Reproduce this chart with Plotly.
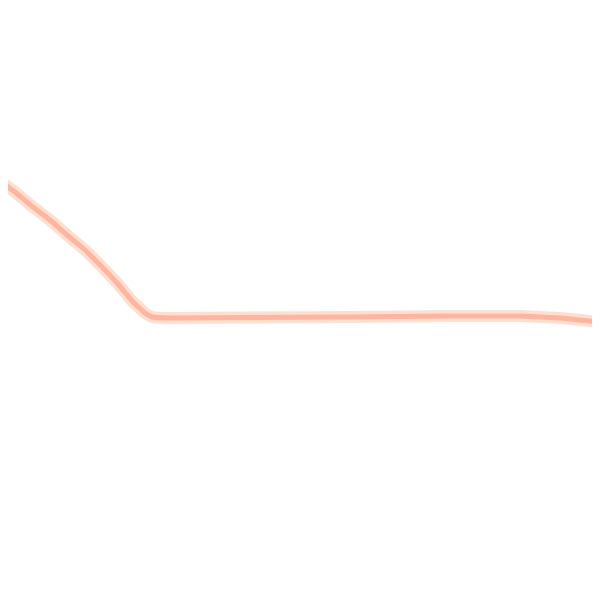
import plotly.graph_objects as go

# values (pixel-like units, y grows downward)
x_vals = [0, 15, 33, 50, 67, 85, 100, 118, 133, 145, 152, 170, 250, 350, 450, 520, 560, 600]
y_vals = [181, 192, 207, 220, 235, 250, 265, 284, 302, 313, 317, 318, 317.5, 317, 316, 316, 318, 322]

fig = go.Figure()
fig.add_trace(go.Scatter(
    x=x_vals, y=y_vals, mode="lines",
    line=dict(color="rgba(255,215,195,0.8)", width=12, shape="spline", smoothing=0.3),
    hoverinfo="skip",
))
fig.add_trace(go.Scatter(
    x=x_vals, y=y_vals, mode="lines",
    line=dict(color="rgba(255,170,148,0.8)", width=5, shape="spline", smoothing=0.3),
    hoverinfo="skip",
))

# the page body adds an 8px offset, so shift the ranges to keep marks in place
fig.update_layout(
    width=600, height=600,
    margin=dict(l=0, r=0, t=0, b=0),
    paper_bgcolor="white", plot_bgcolor="white",
    showlegend=False,
    xaxis=dict(range=[8, 608], visible=False),
    yaxis=dict(range=[608, 8], visible=False),
)
fig.write_html("out.html")
